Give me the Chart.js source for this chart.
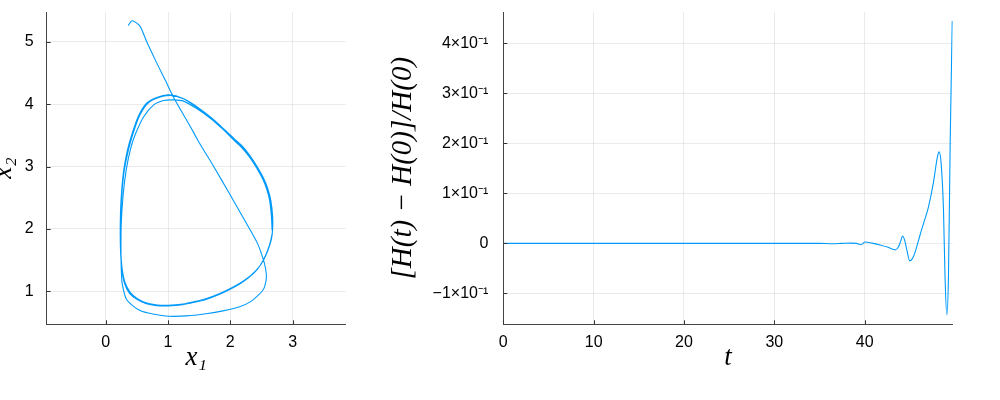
<!DOCTYPE html>
<html lang="en">
<head>
<meta charset="UTF-8">
<title>Phase portrait and energy error</title>
<script src="https://cdn.jsdelivr.net/npm/chart.js"></script>
<style>
  html, body { margin: 0; padding: 0; background: #fff; overflow: hidden; }
  #wrap { position: relative; width: 1000px; height: 400px; }
  .box { position: absolute; top: 0; height: 400px; }
  #leftBox { left: -12px; width: 372px; }
  #rightBox { left: 370px; width: 630px; }
</style>
</head>
<body>
<div id="wrap">
  <div class="box" id="leftBox"><canvas id="phase"></canvas></div>
  <div class="box" id="rightBox"><canvas id="energy"></canvas></div>
</div>
<script>
// phase portrait (x1, x2)
const x1Values = [
  2.67, 2.66, 2.63, 2.58, 2.52, 2.42, 2.31, 2.18, 2.04, 1.88, 1.68, 1.46, 1.25, 1.01, 0.82, 0.66, 0.53, 0.43, 0.35, 0.29,
  0.255, 0.237, 0.233, 0.24, 0.26, 0.30, 0.38, 0.50, 0.65, 0.82, 1.0, 1.24, 1.45, 1.61, 1.82, 1.99, 2.17, 2.31, 2.44, 2.53,
  2.60, 2.65,
  2.68, 2.67, 2.64, 2.59, 2.53, 2.43, 2.32, 2.2, 2.06, 1.9, 1.7, 1.48, 1.27, 1.04, 0.85, 0.68, 0.55, 0.445, 0.365, 0.3,
  0.262, 0.243, 0.238, 0.245, 0.265, 0.31, 0.39, 0.51, 0.66, 0.83, 1.0, 1.24, 1.45, 1.62, 1.83, 2.0, 2.18, 2.32, 2.45, 2.54,
  2.61, 2.66,
  2.68, 2.68, 2.65, 2.6, 2.54, 2.44, 2.33, 2.2, 2.06, 1.9, 1.7, 1.46, 1.25, 1.08, 0.93, 0.77, 0.61, 0.48, 0.40, 0.33,
  0.28, 0.25, 0.245, 0.25, 0.265, 0.34, 0.55, 0.78, 1.0, 1.3, 1.61, 1.9, 2.15, 2.32, 2.42, 2.51, 2.55, 2.58, 2.55, 2.5,
  2.44, 2.31, 2.15, 1.99, 1.74, 1.48, 1.36, 1.09, 0.96, 0.82, 0.66, 0.547, 0.424, 0.36
];
const x2Values = [
  1.98, 2.2, 2.46, 2.65, 2.80, 2.98, 3.15, 3.31, 3.44, 3.60, 3.78, 3.95, 4.09, 4.15, 4.11, 4.02, 3.82, 3.55, 3.27, 2.95,
  2.6, 2.25, 1.9, 1.6, 1.35, 1.13, 0.97, 0.87, 0.80, 0.77, 0.765, 0.785, 0.83, 0.87, 0.95, 1.03, 1.13, 1.23, 1.36, 1.50,
  1.66, 1.82,
  2.0, 2.22, 2.48, 2.67, 2.82, 3.0, 3.17, 3.32, 3.45, 3.6, 3.78, 3.95, 4.08, 4.14, 4.11, 4.02, 3.83, 3.55, 3.27, 2.95,
  2.6, 2.25, 1.9, 1.6, 1.35, 1.14, 0.985, 0.88, 0.81, 0.78, 0.775, 0.795, 0.84, 0.885, 0.965, 1.045, 1.145, 1.245, 1.375, 1.515,
  1.675, 1.835,
  2.0, 2.2, 2.46, 2.65, 2.8, 2.98, 3.15, 3.3, 3.43, 3.58, 3.76, 3.93, 4.05, 4.07, 4.06, 3.99, 3.80, 3.53, 3.29, 2.95,
  2.55, 2.1, 1.7, 1.35, 1.12, 0.86, 0.69, 0.63, 0.60, 0.605, 0.64, 0.69, 0.75, 0.83, 0.91, 1.0, 1.07, 1.23, 1.44, 1.6,
  1.76, 2.0, 2.28, 2.56, 2.99, 3.42, 3.64, 4.11, 4.38, 4.66, 5.0, 5.257, 5.34, 5.26
];
const phaseXTicks = [0, 1, 2, 3];
const phaseYTicks = [1, 2, 3, 4, 5];

// relative energy error over time
const timeValues = [0, 10, 20, 30, 35, 36.5, 37.5, 38.5, 39.1, 39.6, 40.05, 40.8, 41.7, 42.6, 43.4, 43.75, 44.0, 44.2,
  44.45, 44.67, 45.0, 45.3, 45.6, 46.0, 46.3, 46.7, 47.07, 47.6, 48.06, 48.25, 48.47, 48.73, 48.9, 49.1, 49.28, 49.47, 49.7];
const energyError = [0, 0, 0, 0, 0, -0.0008, 0, 0.0005, 0, -0.0027, 0.0026, 0.0005, -0.0033, -0.008, -0.013, -0.007, 0.005, 0.0147,
  0.005, -0.013, -0.035, -0.03, -0.017, 0.008, 0.027, 0.05, 0.073, 0.12, 0.173, 0.183, 0.16, 0.067, -0.067, -0.143, -0.067, 0.2, 0.445];
const timeTicks = [0, 10, 20, 30, 40];
const errorTicks = [-0.1, 0, 0.1, 0.2, 0.3, 0.4];
const errorTickLabels = ['−1×10⁻¹', '0', '1×10⁻¹', '2×10⁻¹', '3×10⁻¹', '4×10⁻¹'];

const lineColor = '#009AFA';
const gridColor = 'rgba(0,0,0,0.08)';
const tickFont = { family: 'Liberation Sans', size: 16 };
const mathFont = { family: 'Liberation Serif', style: 'italic', size: 27 };

// small tick marks pointing into the plot, like the original
const innerTicks = {
  id: 'innerTicks',
  afterDraw(chart) {
    const { ctx, chartArea, scales } = chart;
    ctx.save();
    ctx.strokeStyle = '#333';
    ctx.lineWidth = 1;
    ctx.beginPath();
    scales.x.ticks.forEach(t => {
      const p = Math.round(scales.x.getPixelForValue(t.value)) + 0.5;
      ctx.moveTo(p, chartArea.bottom);
      ctx.lineTo(p, chartArea.bottom - 4);
    });
    scales.y.ticks.forEach(t => {
      const p = Math.round(scales.y.getPixelForValue(t.value)) + 0.5;
      ctx.moveTo(chartArea.left, p);
      ctx.lineTo(chartArea.left + 4, p);
    });
    ctx.stroke();
    ctx.restore();
  }
};

function axis(opts) {
  return {
    type: 'linear',
    min: opts.min,
    max: opts.max,
    afterBuildTicks: s => { s.ticks = opts.ticks.map(v => ({ value: v })); },
    afterFit: s => {
      // fixed box sizes so the plot areas land where the original has them
      if (opts.width) s.width = opts.width;
      if (opts.height) s.height = opts.height;
      s.paddingTop = 0; s.paddingBottom = 0;
      s.paddingLeft = 0; s.paddingRight = 0;
    },
    grid: { color: gridColor, drawTicks: false },
    border: { color: '#444', width: 1 },
    ticks: {
      font: tickFont,
      color: '#000',
      padding: opts.pad,
      maxRotation: 0,
      autoSkip: false,
      callback: opts.label || (v => String(v))
    },
    title: {
      display: true,
      text: opts.title,
      color: '#000',
      font: opts.titleFont || mathFont,
      padding: opts.titlePad
    }
  };
}

new Chart(document.getElementById('phase'), {
  type: 'scatter',
  data: {
    datasets: [{
      data: x1Values.map((x, i) => ({ x: x, y: x2Values[i] })),
      showLine: true,
      borderColor: lineColor,
      borderWidth: 1.1,
      pointRadius: 0,
      tension: 0.25
    }]
  },
  options: {
    responsive: true,
    maintainAspectRatio: false,
    animation: false,
    layout: { padding: { left: 0, right: 14.3, top: 12, bottom: 0 } },
    plugins: { legend: { display: false }, tooltip: { enabled: false } },
    scales: {
      x: axis({ min: -0.947, max: 3.852, ticks: phaseXTicks, pad: 9, title: 'x₁',
        titlePad: { top: 0, bottom: 26 }, height: 75.7 }),
      y: axis({ min: 0.47, max: 5.48, ticks: phaseYTicks, pad: 13, title: 'x₂',
        titlePad: { top: 0, bottom: 0 }, width: 58.7 })
    }
  },
  plugins: [innerTicks]
});

new Chart(document.getElementById('energy'), {
  type: 'line',
  data: {
    datasets: [{
      data: timeValues.map((t, i) => ({ x: t, y: energyError[i] })),
      borderColor: lineColor,
      borderWidth: 1.1,
      pointRadius: 0,
      cubicInterpolationMode: 'monotone'
    }]
  },
  options: {
    responsive: true,
    maintainAspectRatio: false,
    animation: false,
    layout: { padding: { left: 0, right: 47.3, top: 12, bottom: 0 } },
    plugins: { legend: { display: false }, tooltip: { enabled: false } },
    scales: {
      x: axis({ min: 0, max: 49.75, ticks: timeTicks, pad: 9, title: 't',
        titlePad: { top: 0, bottom: 26 }, height: 75.7 }),
      y: axis({ min: -0.162, max: 0.463, ticks: errorTicks, pad: 15,
        title: '[H(t) − H(0)]/H(0)',
        titleFont: { family: 'Liberation Serif', style: 'italic', size: 29 },
        titlePad: { top: 16, bottom: 0 },
        label: v => errorTickLabels[errorTicks.findIndex(e => Math.abs(e - v) < 1e-9)],
        width: 133.3 })
    }
  },
  plugins: [innerTicks]
});
</script>
</body>
</html>
